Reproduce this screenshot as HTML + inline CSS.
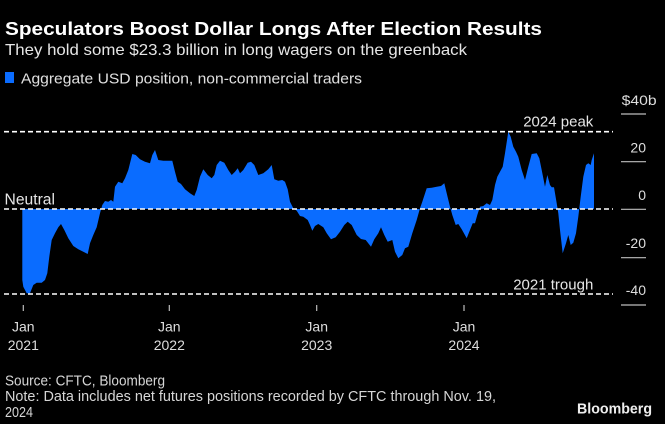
<!DOCTYPE html>
<html>
<head>
<meta charset="utf-8">
<style>
  html, body { margin: 0; padding: 0; background: #000; }
  body { width: 665px; height: 424px; overflow: hidden; }
  svg { display: block; }
  text { font-family: "Liberation Sans", "DejaVu Sans", sans-serif; }
</style>
</head>
<body>
<svg width="665" height="424" viewBox="0 0 665 424" xmlns="http://www.w3.org/2000/svg">
  <rect x="0" y="0" width="665" height="424" fill="#000"/>

  <!-- Title -->
  <text x="5" y="35" font-size="18" font-weight="bold" fill="#ffffff" textLength="537" lengthAdjust="spacingAndGlyphs">Speculators Boost Dollar Longs After Election Results</text>
  <text x="5" y="55" font-size="16" fill="#e6e6e6" textLength="462" lengthAdjust="spacingAndGlyphs">They hold some $23.3 billion in long wagers on the greenback</text>

  <!-- Legend -->
  <rect x="5" y="72" width="9" height="11" fill="#0a6cff"/>
  <text x="21" y="83.5" font-size="15" fill="#e0e0e0" textLength="341" lengthAdjust="spacingAndGlyphs">Aggregate USD position, non-commercial traders</text>

  <!-- Area -->
  <polygon fill="#0a6cff" points="22.3,209 22.3,280 23.3,286.7 26.7,293.3 30,293.3 33.3,285 36.7,282.7 41.7,282.7 45,280 47.3,273.3 49.3,256.7 51.7,240 55,233.3 58.3,227.3 61,224 64.3,230 68.3,238.3 73.3,246 78.3,249.3 83.3,251.7 87.7,254 90,243.3 93.3,235 96.7,227.3 100,213.3 102.3,205 105,201 108.3,201.7 111,200 113.3,201.7 115,186.7 118.3,181.7 122.3,183.3 125,178.3 128.3,170 132.3,154 135.7,155 140,159.3 145,161.7 150,163.3 152.3,155 155,150 158.3,160 163.3,160.7 172.3,160.7 175,171.7 177.7,181.7 181,184 185,189.3 190,193.3 194.3,196 196.7,190 200,176.7 203.3,169.3 207.7,175 211.7,178.3 214.3,175 216.7,165 220,160.7 224.3,162.7 228.3,170 231.7,175 235,171.7 237.7,168.3 240,173.3 243.3,170 247.7,162.7 251,161.7 254.3,165 258.3,175 263.3,173.3 268.3,169.3 271.7,165 274.3,179.3 278.3,180.7 282.3,180 285,181.7 287.7,189.3 290,201.7 293.3,208.3 296.7,210.7 300,216 303.3,216.7 307.7,220 310,225 312.3,230.7 315,226 318.3,224 323.3,227.3 326.7,233.3 331,239.3 335.7,237.3 340,231.7 344.3,225 347.7,221.7 351.7,225 356.7,235 361,239 365.7,240 371,246.7 374.3,239.3 378.3,233.3 381,227.3 384.3,235 387.7,241.7 392.3,240 395,251.7 398.3,258.3 402.3,255 405,248.3 408.3,246.7 412.3,233.3 416.7,220 420,208.3 422.3,201.7 426.7,188.3 431.7,187.7 436.7,186.7 441,186 444.3,183.3 446.7,193.3 450,206.7 452.3,215 455.7,225 458.3,224 461.7,229.3 466.7,238.3 470,230 472.7,223.3 475,223.3 477.3,215 480,206.7 483.3,206 486.7,203.3 490,205 492.3,200 495,185 497.3,176.7 500,171.7 502.7,166.7 505,153.3 508.3,131.7 510.7,136.7 513.3,146.7 516,151.7 518.3,156.7 521.7,170 525,180 528.3,166.7 531.7,154 536.7,153.3 539.3,158.3 541.7,170 545,186.7 547.3,175 550,185 551.7,187.3 554,187.3 556.7,203.3 558.3,213.3 560,230 562.7,253.3 566,243.3 568.3,235 570.7,245 573.3,242.7 576,233.3 578.3,216.7 580.7,196.7 583.3,176.7 586,165 588.3,163.3 590.7,165 591.7,160 594,153.3 594,209"/>

  <!-- Dashed reference lines -->
  <g stroke="#ffffff" stroke-width="1.6" stroke-dasharray="5 3" fill="none">
    <line x1="4" y1="131.7" x2="613" y2="131.7"/>
    <line x1="4" y1="209" x2="613" y2="209"/>
    <line x1="4" y1="294" x2="613" y2="294"/>
  </g>

  <!-- Reference labels -->
  <text x="4.5" y="204.3" font-size="15.5" fill="#e6e6e6" textLength="50.5" lengthAdjust="spacingAndGlyphs">Neutral</text>
  <text x="593.3" y="126.7" font-size="15" fill="#e6e6e6" text-anchor="end">2024 peak</text>
  <text x="593.3" y="289.3" font-size="15" fill="#e6e6e6" text-anchor="end">2021 trough</text>

  <!-- Right axis -->
  <g stroke="#bdbdbd" stroke-width="1.2">
    <line x1="621" y1="114" x2="646" y2="114"/>
    <line x1="621" y1="161.7" x2="646" y2="161.7"/>
    <line x1="621" y1="209.3" x2="646" y2="209.3"/>
    <line x1="621" y1="257.7" x2="646" y2="257.7"/>
    <line x1="621" y1="305" x2="646" y2="305"/>
  </g>
  <g font-size="14" fill="#dddddd">
    <text x="621.7" y="105" textLength="35" lengthAdjust="spacingAndGlyphs">$40b</text>
    <text x="646" y="152.5" text-anchor="end">20</text>
    <text x="646" y="200" text-anchor="end">0</text>
    <text x="646" y="248" text-anchor="end">-20</text>
    <text x="646" y="295" text-anchor="end">-40</text>
  </g>

  <!-- X axis ticks -->
  <g stroke="#bdbdbd" stroke-width="1.2">
    <line x1="23.3" y1="305" x2="23.3" y2="311"/>
    <line x1="169.3" y1="305" x2="169.3" y2="311"/>
    <line x1="316.7" y1="305" x2="316.7" y2="311"/>
    <line x1="464" y1="305" x2="464" y2="311"/>
  </g>
  <g font-size="14" fill="#dddddd" text-anchor="middle">
    <text x="23.3" y="331.5">Jan</text>
    <text x="23.3" y="350">2021</text>
    <text x="169.3" y="331.5">Jan</text>
    <text x="169.3" y="350">2022</text>
    <text x="316.7" y="331.5">Jan</text>
    <text x="316.7" y="350">2023</text>
    <text x="464" y="331.5">Jan</text>
    <text x="464" y="350">2024</text>
  </g>

  <!-- Footer -->
  <g font-size="15" fill="#d6d6d6">
    <text x="5" y="385.5" textLength="160" lengthAdjust="spacingAndGlyphs">Source: CFTC, Bloomberg</text>
    <text x="5" y="401" textLength="491" lengthAdjust="spacingAndGlyphs">Note: Data includes net futures positions recorded by CFTC through Nov. 19,</text>
    <text x="5" y="417" textLength="28" lengthAdjust="spacingAndGlyphs">2024</text>
  </g>
  <text x="577" y="413.3" font-size="15" font-weight="bold" fill="#eeeeee" textLength="75" lengthAdjust="spacingAndGlyphs">Bloomberg</text>
</svg>
</body>
</html>
